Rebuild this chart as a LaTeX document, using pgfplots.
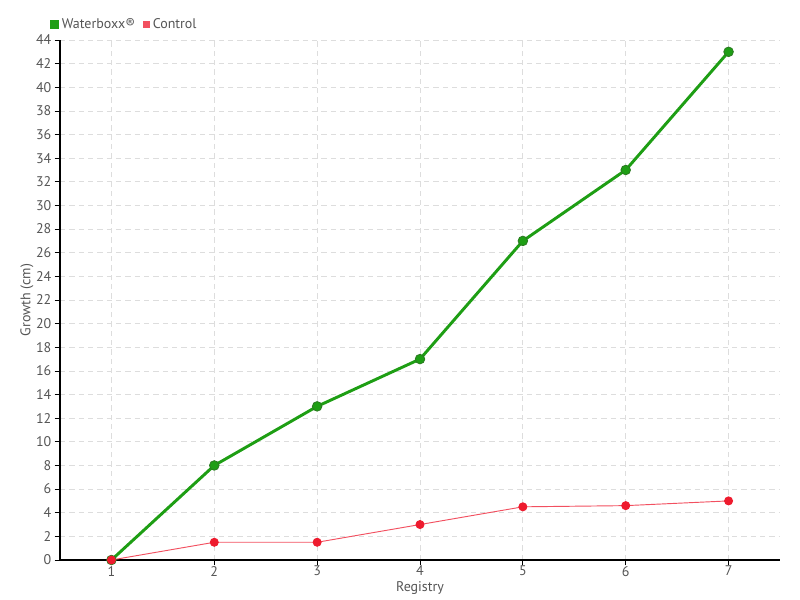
\documentclass[border=0pt]{standalone}
\usepackage{fontspec}
\setmainfont{PT Sans}
\usepackage{pgfplots}
\pgfplotsset{compat=1.18}
\definecolor{wgreen}{HTML}{1E9E14}
\definecolor{wgreenD}{HTML}{2B7A22}
\definecolor{cred}{HTML}{EE1B2E}
\definecolor{credL}{HTML}{F25060}
\definecolor{txt}{HTML}{555555}
\definecolor{gridc}{HTML}{DDDDDD}
\begin{document}
\begin{tikzpicture}
\useasboundingbox (-45pt,-30pt) rectangle (555pt,420pt);
\begin{axis}[
  at={(0,0)}, anchor=south west,
  scale only axis, width=540pt, height=390pt,
  xmin=0.5, xmax=7.5, ymin=0, ymax=44,
  xtick={1,...,7}, ytick={0,2,...,44},
  axis x line*=bottom, axis y line*=left,
  axis line style={black, line width=0.8pt, -},
  tick style={black, line width=0.6pt},
  tick align=outside, major tick length=4pt,
  grid=major,
  major grid style={gridc, dash pattern=on 4pt off 3pt, line width=0.6pt},
  tick label style={font=\fontsize{10.5}{12}\selectfont, text=txt},
  /pgf/number format/assume math mode=true,
  xticklabel style={yshift=3pt},
  yticklabel style={xshift=1pt},
  xlabel={Registry}, ylabel={Growth (cm)},
  label style={font=\fontsize{10.5}{12}\selectfont, text=txt},
  xlabel style={yshift=3pt},
  ylabel style={yshift=-5pt},
  legend columns=2,
  legend style={at={(axis description cs:-0.014,1.013)}, anchor=south west, draw=none, fill=none,
    font=\fontsize{10.5}{12}\selectfont, text=txt, inner sep=0pt,
    /tikz/every even column/.append style={column sep=4pt}},
  legend cell align=left,
  legend image code/.code={\fill[#1] (0pt,-2.3pt) rectangle (4.6pt,2.3pt);},
  clip=false,
]
\addplot[wgreen, line width=2.2pt, mark=*, mark size=3.6pt, mark options={fill=wgreen, draw=wgreenD, line width=0.6pt}]
  coordinates {(1,0) (2,8) (3,13) (4,17) (5,27) (6,33) (7,43)};
\addlegendentry{Waterboxx®}
\addplot[credL, line width=0.7pt, mark=*, mark size=3pt, mark options={fill=cred, draw=cred}]
  coordinates {(1,0) (2,1.5) (3,1.5) (4,3) (5,4.5) (6,4.6) (7,5)};
\addlegendentry{Control}
\end{axis}
\end{tikzpicture}
\end{document}
